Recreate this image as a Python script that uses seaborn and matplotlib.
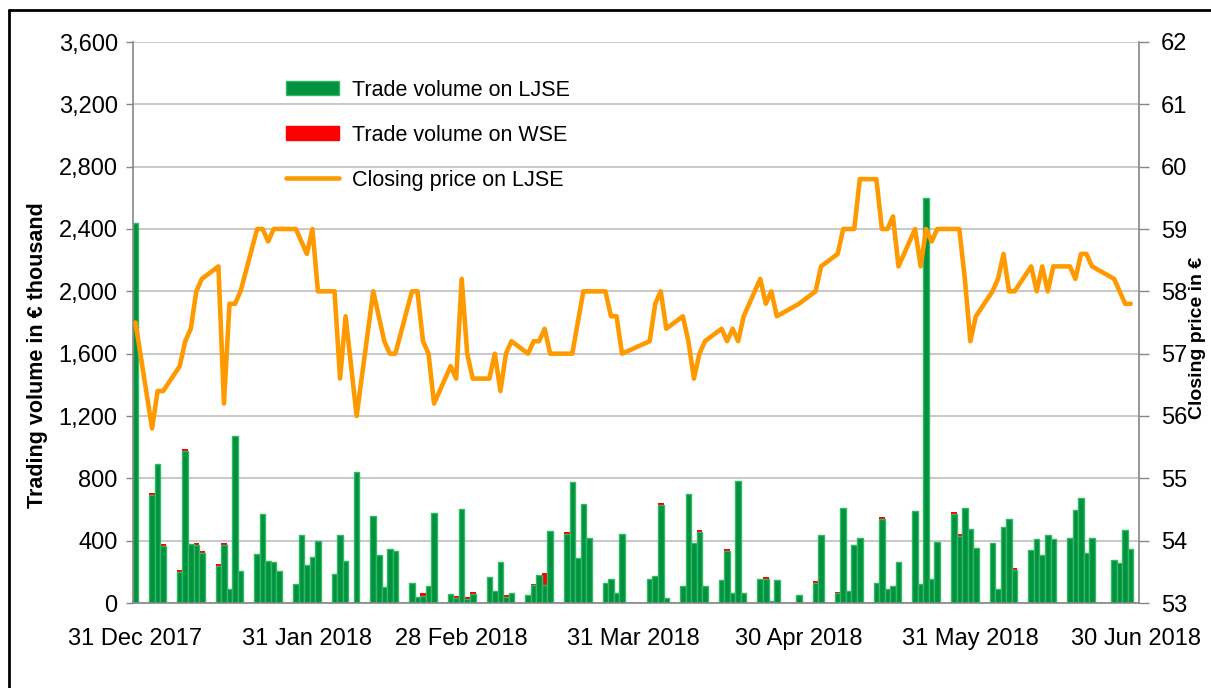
import numpy as np
import pandas as pd
import matplotlib.pyplot as plt
from matplotlib.patches import Patch
from matplotlib.lines import Line2D
from matplotlib.ticker import FuncFormatter
import seaborn as sns

# trading days (LJSE)
dates = [
    "2017-12-31", "2018-01-03", "2018-01-04", "2018-01-05", "2018-01-08", "2018-01-09",
    "2018-01-10", "2018-01-11", "2018-01-12", "2018-01-15", "2018-01-16", "2018-01-17",
    "2018-01-18", "2018-01-19", "2018-01-22", "2018-01-23", "2018-01-24", "2018-01-25",
    "2018-01-26", "2018-01-29", "2018-01-30", "2018-01-31", "2018-02-01", "2018-02-02",
    "2018-02-05", "2018-02-06", "2018-02-07", "2018-02-09", "2018-02-12", "2018-02-13",
    "2018-02-14", "2018-02-15", "2018-02-16", "2018-02-19", "2018-02-20", "2018-02-21",
    "2018-02-22", "2018-02-23", "2018-02-26", "2018-02-27", "2018-02-28", "2018-03-01",
    "2018-03-02", "2018-03-05", "2018-03-06", "2018-03-07", "2018-03-08", "2018-03-09",
    "2018-03-12", "2018-03-13", "2018-03-14", "2018-03-15", "2018-03-16", "2018-03-19",
    "2018-03-20", "2018-03-21", "2018-03-22", "2018-03-23", "2018-03-26", "2018-03-27",
    "2018-03-28", "2018-03-29", "2018-04-03", "2018-04-04", "2018-04-05", "2018-04-06",
    "2018-04-09", "2018-04-10", "2018-04-11", "2018-04-12", "2018-04-13", "2018-04-16",
    "2018-04-17", "2018-04-18", "2018-04-19", "2018-04-20", "2018-04-23", "2018-04-24",
    "2018-04-25", "2018-04-26", "2018-04-30", "2018-05-03", "2018-05-04", "2018-05-07",
    "2018-05-08", "2018-05-09", "2018-05-10", "2018-05-11", "2018-05-14", "2018-05-15",
    "2018-05-16", "2018-05-17", "2018-05-18", "2018-05-21", "2018-05-22", "2018-05-23",
    "2018-05-24", "2018-05-25", "2018-05-28", "2018-05-29", "2018-05-30", "2018-05-31",
    "2018-06-01", "2018-06-04", "2018-06-05", "2018-06-06", "2018-06-07", "2018-06-08",
    "2018-06-11", "2018-06-12", "2018-06-13", "2018-06-14", "2018-06-15", "2018-06-18",
    "2018-06-19", "2018-06-20", "2018-06-21", "2018-06-22", "2018-06-26", "2018-06-27",
    "2018-06-28", "2018-06-29",
]

ljse_volume = [
    2440, 690, 890, 365, 200, 975,
    380, 375, 320, 238, 375, 90,
    1070, 203, 312, 573, 272, 263,
    205, 124, 434, 246, 297, 396,
    188, 434, 270, 839, 560, 306,
    100, 345, 335, 129, 36, 47,
    112, 576, 56, 34, 605, 24,
    60, 165, 75, 263, 39, 66,
    49, 113, 180, 113, 460, 441,
    775, 289, 633, 419, 130, 154,
    66, 445, 154, 173, 629, 32,
    107, 698, 385, 456, 107, 146,
    336, 64, 781, 64, 154, 154,
    15, 146, 49, 128, 437, 62,
    608, 75, 370, 419, 130, 541,
    90, 107, 263, 593, 124, 2600,
    154, 394, 571, 432, 608, 477,
    355, 385, 90, 486, 541, 210,
    338, 413, 306, 434, 413, 419,
    599, 674, 321, 419, 278, 255,
    469, 345,
]

wse_volume = [
    0, 15, 0, 12, 12, 15,
    0, 12, 12, 12, 12, 0,
    0, 0, 0, 0, 0, 0,
    0, 0, 0, 0, 0, 0,
    0, 0, 0, 0, 0, 0,
    0, 0, 0, 0, 0, 15,
    0, 0, 0, 13, 0, 13,
    13, 0, 0, 0, 10, 0,
    0, 11, 0, 77, 0, 13,
    0, 0, 0, 0, 0, 0,
    0, 0, 0, 0, 15, 0,
    0, 0, 0, 15, 0, 0,
    11, 0, 0, 0, 0, 11,
    0, 0, 0, 11, 0, 11,
    0, 0, 0, 0, 0, 13,
    0, 0, 0, 0, 0, 0,
    0, 0, 15, 13, 0, 0,
    0, 0, 0, 0, 0, 13,
    0, 0, 0, 0, 0, 0,
    0, 0, 0, 0, 0, 0,
    0, 0,
]

closing_price = [
    57.5, 55.8, 56.4, 56.4, 56.8, 57.2,
    57.4, 58.0, 58.2, 58.4, 56.2, 57.8,
    57.8, 58.0, 59.0, 59.0, 58.8, 59.0,
    59.0, 59.0, 58.8, 58.6, 59.0, 58.0,
    58.0, 56.6, 57.6, 56.0, 58.0, 57.6,
    57.2, 57.0, 57.0, 58.0, 58.0, 57.2,
    57.0, 56.2, 56.8, 56.6, 58.2, 57.0,
    56.6, 56.6, 57.0, 56.4, 57.0, 57.2,
    57.0, 57.2, 57.2, 57.4, 57.0, 57.0,
    57.0, 57.5, 58.0, 58.0, 58.0, 57.6,
    57.6, 57.0, 57.2, 57.8, 58.0, 57.4,
    57.6, 57.2, 56.6, 57.0, 57.2, 57.4,
    57.2, 57.4, 57.2, 57.6, 58.2, 57.8,
    58.0, 57.6, 57.8, 58.0, 58.4, 58.6,
    59.0, 59.0, 59.0, 59.8, 59.8, 59.0,
    59.0, 59.2, 58.4, 59.0, 58.4, 59.0,
    58.8, 59.0, 59.0, 59.0, 58.2, 57.2,
    57.6, 58.0, 58.2, 58.6, 58.0, 58.0,
    58.4, 58.0, 58.4, 58.0, 58.4, 58.4,
    58.2, 58.6, 58.6, 58.4, 58.2, 58.0,
    57.8, 57.8,
]

tick_dates = ["2017-12-31", "2018-01-31", "2018-02-28", "2018-03-31",
              "2018-04-30", "2018-05-31", "2018-06-30"]
tick_labels = ["31 Dec 2017", "31 Jan 2018", "28 Feb 2018", "31 Mar 2018",
               "30 Apr 2018", "31 May 2018", "30 Jun 2018"]

GREEN = "#00923F"
GREEN_EDGE = "#33B864"
RED = "#FF0000"
ORANGE = "#FF9900"
GRAY = "#868686"

start = pd.Timestamp("2017-12-31")
df = pd.DataFrame({
    "day": (pd.to_datetime(dates) - start).days,
    "ljse": ljse_volume,
    "wse": wse_volume,
    "price": closing_price,
})
df["total"] = df["ljse"] + df["wse"]
tick_days = (pd.to_datetime(tick_dates) - start).days

sns.set_style("white")
plt.rcParams["font.family"] = ["Liberation Sans", "DejaVu Sans"]
plt.rcParams["text.color"] = "black"

fig = plt.figure(figsize=(12.11, 6.88), dpi=100)
ax = fig.add_axes([133 / 1211, 85 / 688, 1006 / 1211, 561 / 688])

# stacked bars: total (red WSE on top) first, LJSE part over it
sns.barplot(data=df, x="day", y="total", native_scale=True, width=1.0,
            color=RED, saturation=1, errorbar=None, linewidth=0, ax=ax)
sns.barplot(data=df, x="day", y="ljse", native_scale=True, width=1.0,
            color=GREEN, saturation=1, errorbar=None, edgecolor=GREEN_EDGE,
            linewidth=1, ax=ax)

ax2 = ax.twinx()
sns.lineplot(data=df, x="day", y="price", color=ORANGE, linewidth=3.3, ax=ax2)

ax.set_ylim(0, 3600)
ax.set_yticks(np.arange(0, 3601, 400))
ax.yaxis.set_major_formatter(FuncFormatter(lambda v, p: f"{int(v):,}"))
ax2.set_ylim(53, 62)
ax2.set_yticks(np.arange(53, 63, 1))
ax.set_xticks(tick_days)
ax.set_xticklabels(tick_labels)
ax.set_xlim(-0.45, 181.5)

ax.yaxis.grid(True, color="#BFBFBF", linewidth=1.2)
ax.xaxis.grid(False)
ax.set_axisbelow(True)

ax.tick_params(axis="x", length=0, pad=18, labelsize=17, labelcolor="black")
ax.tick_params(axis="y", length=5, width=1, color=GRAY, pad=6, labelsize=17,
               labelcolor="black", left=True)
ax2.tick_params(axis="y", length=7, width=1, color=GRAY, pad=9, labelsize=17,
                labelcolor="black", right=True)

for a in (ax, ax2):
    a.set_xlabel("")
    a.set_ylabel("")
    for s in a.spines.values():
        s.set_color(GRAY)
        s.set_linewidth(1.2)
    a.spines["top"].set_visible(False)
ax.spines["right"].set_visible(False)
ax2.spines["left"].set_visible(False)
ax2.spines["bottom"].set_visible(False)

handles = [
    Patch(facecolor=GREEN, edgecolor=GREEN_EDGE, label="Trade volume on LJSE"),
    Patch(facecolor=RED, edgecolor=RED, label="Trade volume on WSE"),
    Line2D([], [], color=ORANGE, linewidth=3.3, label="Closing price on LJSE"),
]
ax2.legend(handles=handles, loc="upper left", bbox_to_anchor=(0.152, 0.933),
           frameon=False, fontsize=15.5, handlelength=2.46, handleheight=0.65,
           handletextpad=0.6, labelspacing=1.12, borderpad=0, borderaxespad=0,
           labelcolor="black")

fig.text(38 / 1211, 1 - 355 / 688, "Trading volume in € thousand", rotation=90,
         fontsize=15.5, fontweight="bold", ha="center", va="center")
fig.text(1189 / 1211, 1 - 338 / 688, "Closing price in €", rotation=90,
         fontsize=14, fontweight="bold", ha="left", va="center")

# outer chart frame (cut off at right and bottom in the reference)
fig.add_artist(Line2D([9 / 1211, 9 / 1211], [0, 1 - 10 / 688],
                      transform=fig.transFigure, color="black", linewidth=2))
fig.add_artist(Line2D([9 / 1211, 1], [1 - 10 / 688, 1 - 10 / 688],
                      transform=fig.transFigure, color="black", linewidth=2))

fig.savefig("out.png", dpi=100)
